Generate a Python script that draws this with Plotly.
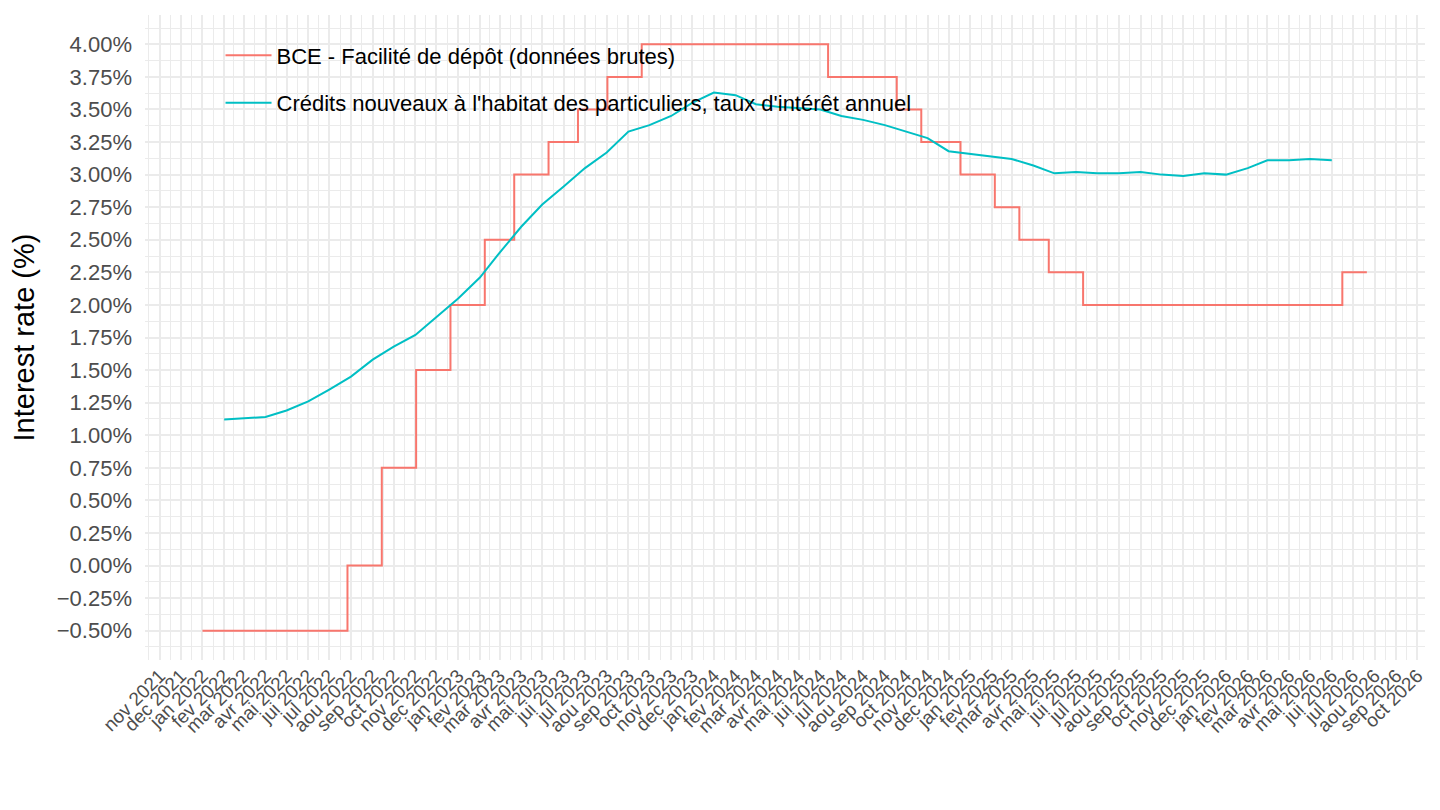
import pandas as pd
import plotly.graph_objects as go

# BCE deposit facility: date of each rate change, and rate in force from that date
bce_dates = ["2022-01-01", "2022-07-27", "2022-09-14", "2022-11-02", "2022-12-21",
             "2023-02-08", "2023-03-22", "2023-05-10", "2023-06-21", "2023-08-02",
             "2023-09-20", "2024-06-12", "2024-09-18", "2024-10-23", "2024-12-18",
             "2025-02-05", "2025-03-12", "2025-04-23", "2025-06-11", "2026-06-16",
             "2026-07-21"]
bce_rates = [-0.50, 0.00, 0.75, 1.50, 2.00,
             2.50, 3.00, 3.25, 3.50, 3.75,
             4.00, 3.75, 3.50, 3.25, 3.00,
             2.75, 2.50, 2.25, 2.00, 2.25,
             2.25]

# new housing loans, monthly (feb 2022 - jun 2026)
credit_months = pd.date_range("2022-02-01", "2026-06-01", freq="MS")
credit_rates = [1.12, 1.13, 1.14, 1.19, 1.26, 1.35, 1.45, 1.58, 1.68, 1.77, 1.91,
                2.05, 2.21, 2.40, 2.60, 2.77, 2.91, 3.05, 3.17, 3.33, 3.38, 3.45, 3.55,
                3.63, 3.61, 3.54, 3.52, 3.51, 3.50, 3.45, 3.42, 3.38, 3.33, 3.28, 3.18,
                3.16, 3.14, 3.12, 3.07, 3.01, 3.02, 3.01, 3.01, 3.02, 3.00, 2.99, 3.01,
                3.00, 3.05, 3.11, 3.11, 3.12, 3.11]

mois = ["jan", "fev", "mar", "avr", "mai", "jui", "jul", "aou", "sep", "oct", "nov", "dec"]
tick_dates = pd.date_range("2021-11-01", "2026-10-01", freq="MS")
tick_text = [f"{mois[d.month - 1]} {d.year}" for d in tick_dates]

# minor breaks halfway between month starts (ggplot style)
edges = pd.date_range("2021-10-01", "2026-11-01", freq="MS")
minor_dates = [edges[i] + (edges[i + 1] - edges[i]) / 2 for i in range(len(edges) - 1)]

fig = go.Figure()
fig.add_trace(go.Scatter(x=pd.to_datetime(bce_dates), y=bce_rates, mode="lines",
                         line=dict(color="#F8766D", width=2, shape="hv"),
                         name="BCE - Facilité de dépôt (données brutes)", legendgroup="a"))
fig.add_trace(go.Scatter(x=credit_months, y=credit_rates, mode="lines",
                         line=dict(color="#00BFC4", width=2),
                         name="Crédits nouveaux à l'habitat des particuliers, taux d'intérêt annuel",
                         legendgroup="b"))

# page body adds ~8px, margins compensate
fig.update_layout(
    width=1440, height=810,
    margin=dict(l=137, r=23, t=7, b=158),
    paper_bgcolor="white", plot_bgcolor="white",
    font=dict(family="Liberation Sans, Arial, sans-serif", color="#4d4d4d"),
    showlegend=True,
    legend=dict(x=0.059, y=0.97, xanchor="left", yanchor="top",
                bgcolor="rgba(0,0,0,0)", font=dict(size=22, color="black"),
                tracegroupgap=16, itemwidth=46),
)
fig.update_xaxes(
    range=["2021-10-11", "2026-10-12"], automargin=False,
    tickmode="array", tickvals=tick_dates, ticktext=tick_text, tickangle=-45,
    tickfont=dict(size=19, color="#4d4d4d"),
    showgrid=True, gridcolor="#ebebeb", gridwidth=2,
    minor=dict(tickmode="array", tickvals=minor_dates, showgrid=True,
               gridcolor="#ebebeb", gridwidth=1),
    zeroline=False, showline=False, ticks="",
)
fig.update_yaxes(
    range=[-0.725, 4.225], automargin=False,
    tickmode="linear", tick0=-0.5, dtick=0.25, tickformat=".2f", ticksuffix="%",
    tickfont=dict(size=22, color="#4d4d4d"), ticklabelstandoff=12,
    title=dict(text="Interest rate (%)", font=dict(size=29, color="black"), standoff=26),
    showgrid=True, gridcolor="#ebebeb", gridwidth=2,
    minor=dict(dtick=0.125, showgrid=True, gridcolor="#ebebeb", gridwidth=1),
    zeroline=False, showline=False, ticks="",
)

fig.write_html("out.html")
